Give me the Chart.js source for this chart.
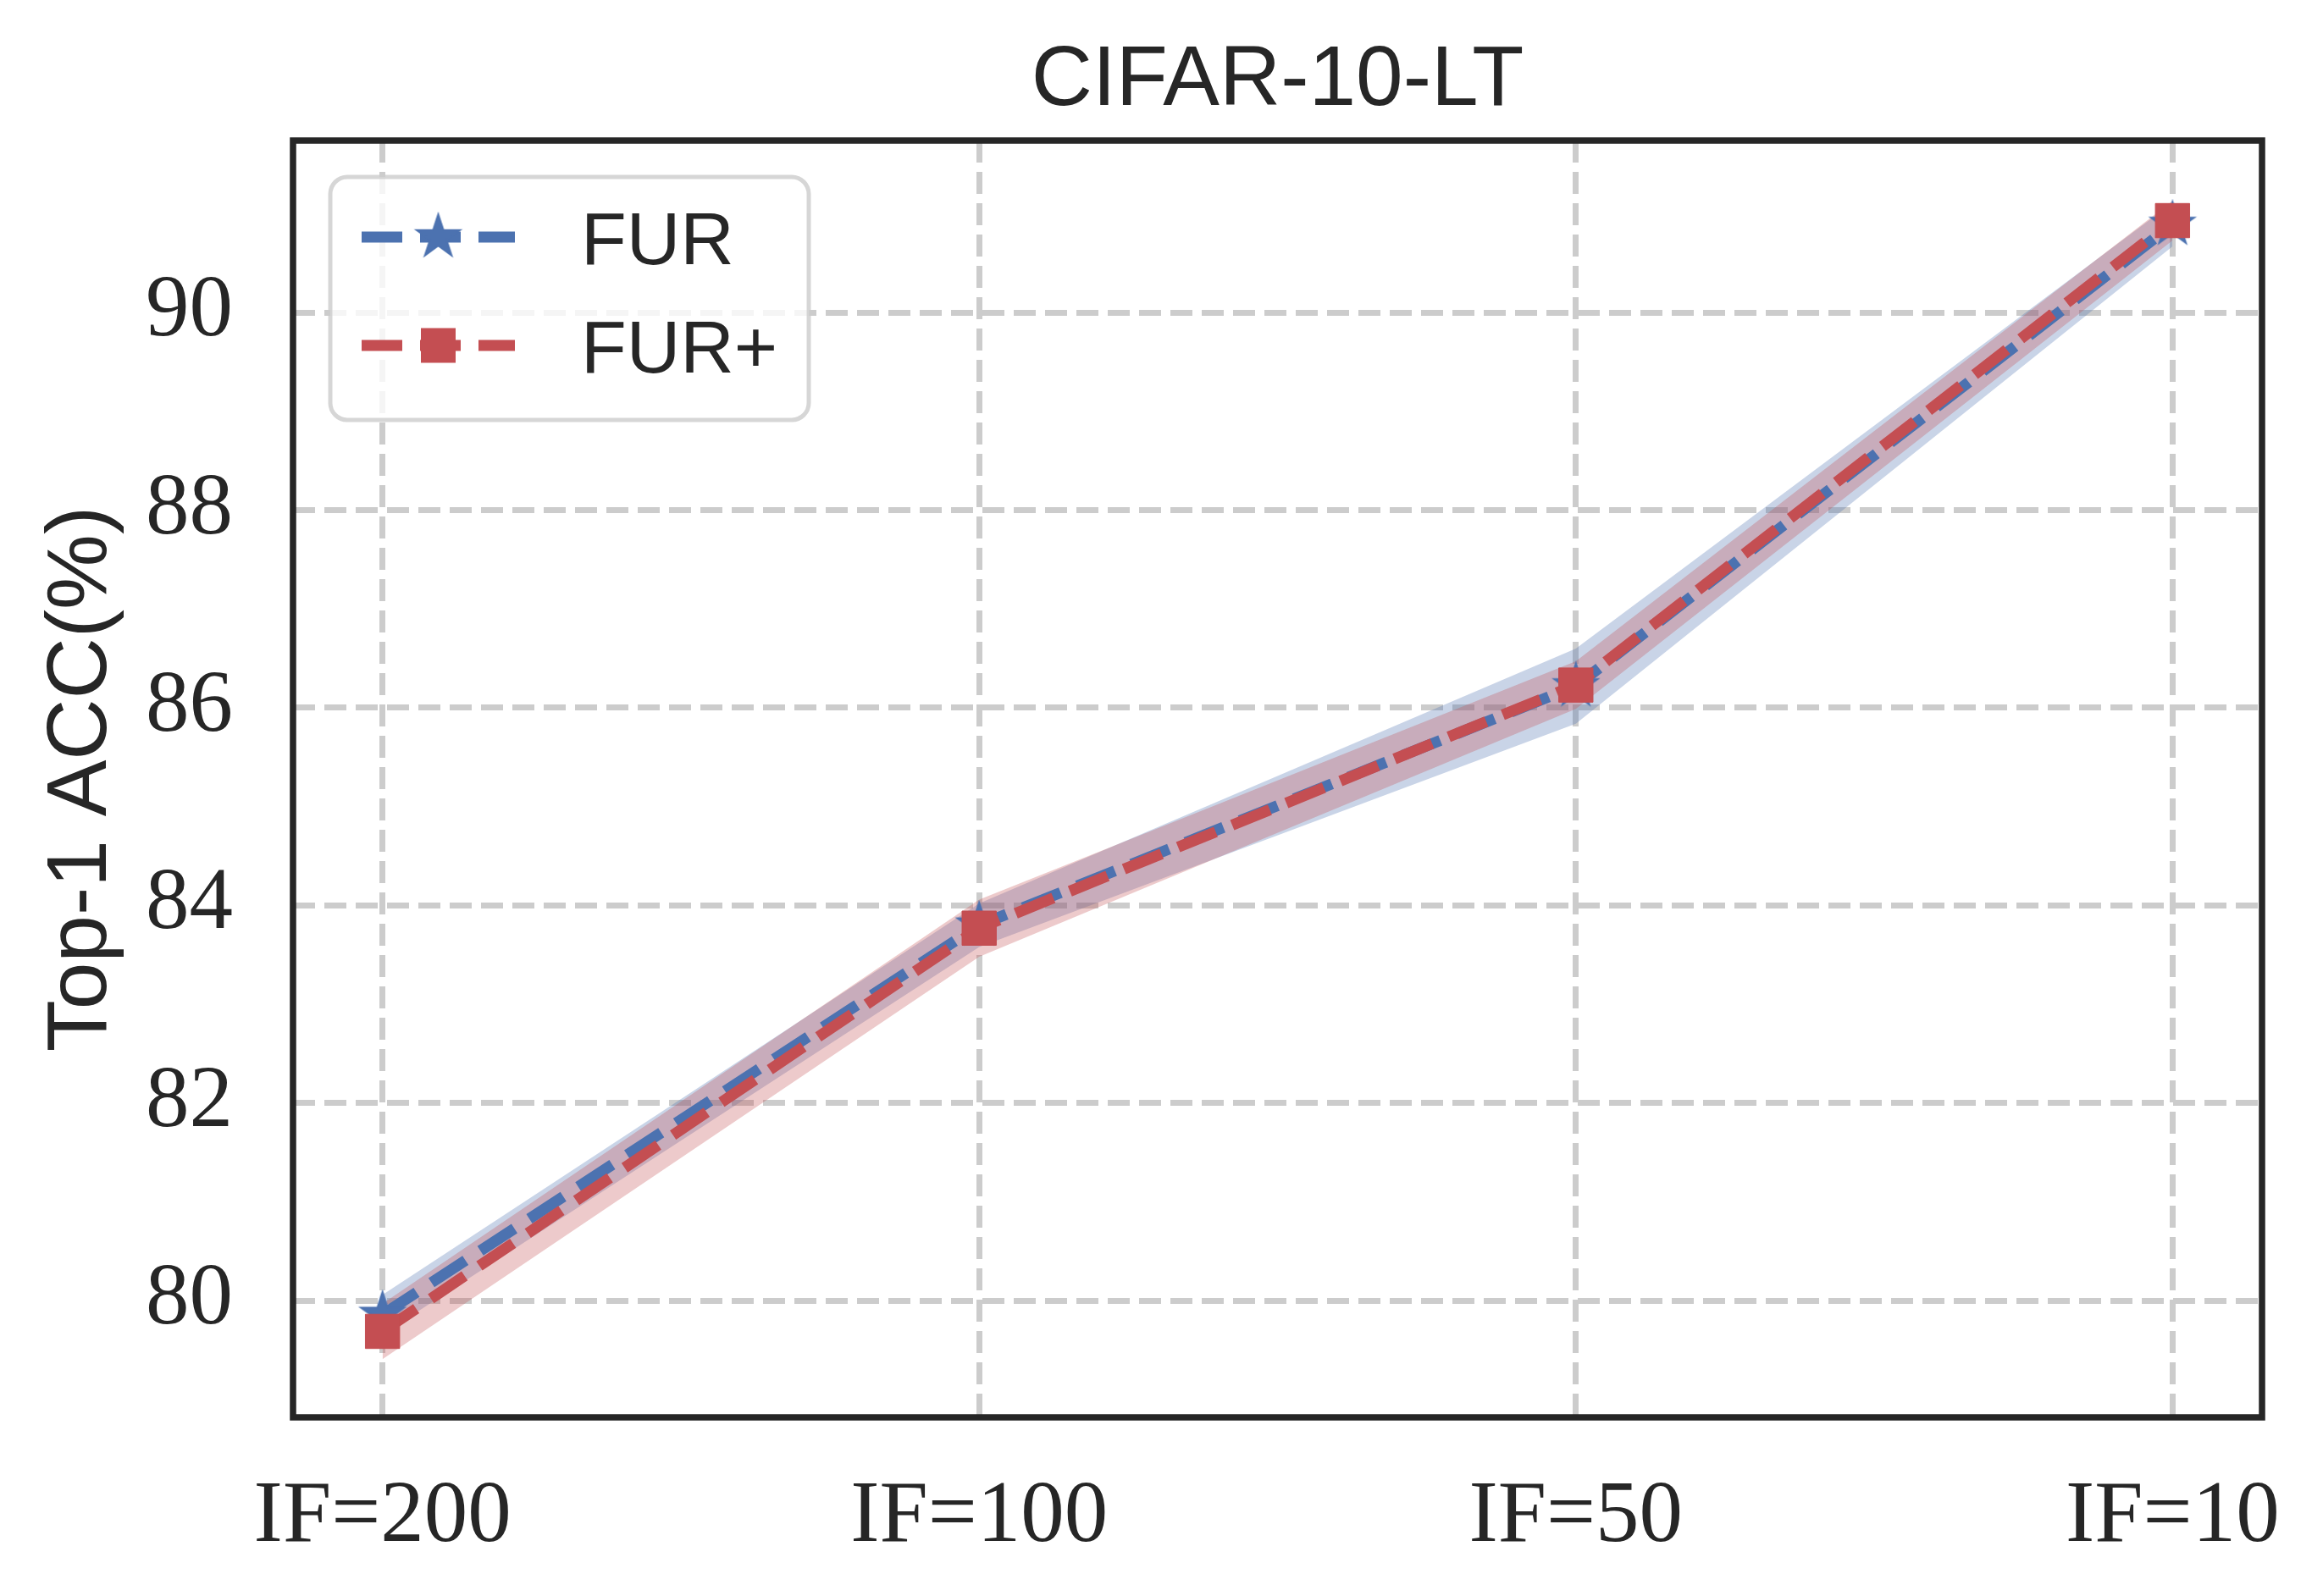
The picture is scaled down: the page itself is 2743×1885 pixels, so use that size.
<!DOCTYPE html>
<html><head><meta charset="utf-8">
<script src="https://cdn.jsdelivr.net/npm/chart.js@4.4.1/dist/chart.umd.min.js"></script>
<style>html,body{margin:0;padding:0;background:#fff;overflow:hidden}#wrap{width:2743px;height:1885px;position:relative}</style>
</head><body><div id="wrap"><canvas id="c" width="2743" height="1885"></canvas></div>
<script>
// ---- data ----
const categories = ['IF=200', 'IF=100', 'IF=50', 'IF=10'];
const furMean = [79.86, 83.80, 86.22, 90.89];
const furStd = [0.20, 0.22, 0.38, 0.22];
const furPlusMean = [79.69, 83.77, 86.23, 90.93];
const furPlusStd = [0.28, 0.29, 0.24, 0.20];
const yTicks = [80, 82, 84, 86, 88, 90];
const seriesNames = ['FUR', 'FUR+'];
const titleText = 'CIFAR-10-LT';
const yLabelText = 'Top-1 ACC(%)';

// ---- style ----
const BLUE = '#4C72B0', RED = '#C44E52', TXT = '#262626';
const LW = 13, DASH = [48, 21];

function makeStar(R, color) {
  const s = Math.ceil(2 * R + 6);
  const cv = document.createElement('canvas');
  cv.width = s; cv.height = s;
  const g = cv.getContext('2d');
  g.translate(s / 2, s / 2);
  g.beginPath();
  for (let i = 0; i < 10; i++) {
    const r = i % 2 === 0 ? R : R * 0.381966;
    const a = -Math.PI / 2 + i * Math.PI / 5;
    const px = r * Math.cos(a), py = r * Math.sin(a);
    if (i === 0) g.moveTo(px, py); else g.lineTo(px, py);
  }
  g.closePath();
  g.fillStyle = color; g.fill();
  g.lineJoin = 'miter'; g.lineWidth = 2; g.strokeStyle = color; g.stroke();
  return cv;
}
const starImg = makeStar(27, BLUE);

const pts = (arr) => arr.map((v, i) => ({ x: i, y: v }));
const band = (m, s, sign) => m.map((v, i) => ({ x: i, y: v + sign * s[i] }));

const decor = {
  id: 'decor',
  afterDatasetsDraw(chart) {
    const { ctx, chartArea: a } = chart;
    ctx.save();
    // frame
    ctx.strokeStyle = TXT; ctx.lineWidth = 7.5;
    ctx.strokeRect(a.left, a.top, a.right - a.left, a.bottom - a.top);
    // legend
    const bx = a.left + 44, by = a.top + 43, bw = 565, bh = 287, r = 20;
    ctx.beginPath();
    ctx.moveTo(bx + r, by);
    ctx.arcTo(bx + bw, by, bx + bw, by + bh, r);
    ctx.arcTo(bx + bw, by + bh, bx, by + bh, r);
    ctx.arcTo(bx, by + bh, bx, by, r);
    ctx.arcTo(bx, by, bx + bw, by, r);
    ctx.closePath();
    ctx.fillStyle = 'rgba(255,255,255,0.8)'; ctx.fill();
    ctx.strokeStyle = 'rgba(204,204,204,0.8)'; ctx.lineWidth = 5; ctx.stroke();
    const rows = [
      { y: by + 71, color: BLUE, marker: 'star', name: seriesNames[0] },
      { y: by + 199, color: RED, marker: 'square', name: seriesNames[1] }
    ];
    const hx0 = bx + 37, hx1 = bx + 218, hmid = (hx0 + hx1) / 2;
    rows.forEach(row => {
      ctx.save();
      ctx.strokeStyle = row.color; ctx.lineWidth = LW; ctx.lineCap = 'butt';
      ctx.setLineDash(DASH);
      ctx.beginPath(); ctx.moveTo(hx0, row.y); ctx.lineTo(hx1, row.y); ctx.stroke();
      ctx.restore();
      if (row.marker === 'star') {
        ctx.drawImage(starImg, hmid - starImg.width / 2, row.y - starImg.height / 2);
      } else {
        ctx.fillStyle = row.color;
        ctx.fillRect(hmid - 20.5, row.y - 20.5, 41, 41);
      }
      ctx.fillStyle = TXT;
      ctx.font = '88px "Liberation Sans", Arial, sans-serif';
      ctx.textAlign = 'left'; ctx.textBaseline = 'alphabetic';
      ctx.fillText(row.name, bx + 296, row.y + 32);
    });
    ctx.restore();
  },
  afterDraw(chart) {
    const { ctx, chartArea: a } = chart;
    ctx.save();
    ctx.fillStyle = TXT;
    ctx.font = '100px "Liberation Sans", Arial, sans-serif';
    ctx.textAlign = 'center'; ctx.textBaseline = 'alphabetic';
    ctx.fillText(titleText, (a.left + a.right) / 2, 124);
    ctx.translate(125, (a.top + a.bottom) / 2);
    ctx.rotate(-Math.PI / 2);
    ctx.fillText(yLabelText, 0, 0);
    ctx.restore();
  }
};

new Chart(document.getElementById('c'), {
  type: 'line',
  data: {
    datasets: [
      { label: seriesNames[1], data: pts(furPlusMean), borderColor: RED, backgroundColor: RED,
        borderWidth: LW, borderDash: DASH, borderJoinStyle: 'round', fill: false,
        pointStyle: 'rect', pointRadius: 28.6, pointBorderWidth: 1, pointBackgroundColor: RED, pointBorderColor: RED },
      { label: seriesNames[0], data: pts(furMean), borderColor: BLUE, backgroundColor: BLUE,
        borderWidth: LW, borderDash: DASH, borderJoinStyle: 'round', fill: false,
        pointStyle: starImg, pointRadius: 27 },
      { label: 'FUR+ upper', data: band(furPlusMean, furPlusStd, 1), borderWidth: 0, pointRadius: 0,
        fill: '+1', backgroundColor: 'rgba(196,78,82,0.3)', borderColor: 'rgba(196,78,82,0)' },
      { label: 'FUR+ lower', data: band(furPlusMean, furPlusStd, -1), borderWidth: 0, pointRadius: 0,
        fill: false, borderColor: 'rgba(196,78,82,0)' },
      { label: 'FUR upper', data: band(furMean, furStd, 1), borderWidth: 0, pointRadius: 0,
        fill: '+1', backgroundColor: 'rgba(76,114,176,0.3)', borderColor: 'rgba(76,114,176,0)' },
      { label: 'FUR lower', data: band(furMean, furStd, -1), borderWidth: 0, pointRadius: 0,
        fill: false, borderColor: 'rgba(76,114,176,0)' }
    ]
  },
  options: {
    responsive: false, animation: false, devicePixelRatio: 1,
    layout: { padding: { left: 0, right: 72, top: 166, bottom: 0 } },
    plugins: { legend: { display: false }, tooltip: { enabled: false }, title: { display: false } },
    elements: { line: { tension: 0 } },
    scales: {
      x: {
        type: 'linear', min: -0.15, max: 3.15,
        afterBuildTicks: (s) => { s.ticks = categories.map((c, i) => ({ value: i })); },
        afterFit: (s) => { s.height = 211; s.paddingLeft = 0; s.paddingRight = 0; },
        ticks: { callback: (v) => categories[v], color: TXT, padding: 57, maxRotation: 0, minRotation: 0, autoSkip: false,
          font: { family: '"Liberation Serif", "Times New Roman", serif', size: 103 } },
        grid: { color: '#cccccc', lineWidth: 7, drawTicks: false, tickLength: 0 },
        border: { display: false, dash: [26, 11] }
      },
      y: {
        type: 'linear', min: 78.82, max: 91.74,
        afterBuildTicks: (s) => { s.ticks = yTicks.map(v => ({ value: v })); },
        afterFit: (s) => { s.width = 346; s.paddingTop = 0; s.paddingBottom = 0; },
        ticks: { color: TXT, padding: 71,
          font: { family: '"Liberation Serif", "Times New Roman", serif', size: 103 } },
        grid: { color: '#cccccc', lineWidth: 7, drawTicks: false, tickLength: 0 },
        border: { display: false, dash: [26, 11] }
      }
    }
  },
  plugins: [decor]
});
</script></body></html>
